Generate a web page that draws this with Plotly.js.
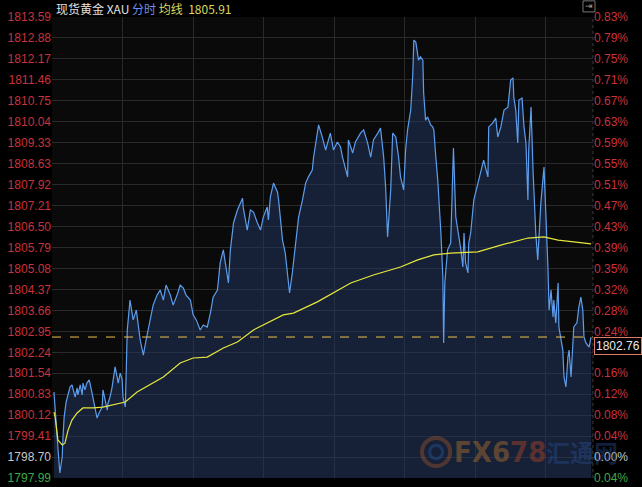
<!DOCTYPE html>
<html><head><meta charset="utf-8">
<script src="https://cdn.plot.ly/plotly-3.0.1.min.js"></script>
<style>html,body{margin:0;padding:0;background:#000;}#chart{width:642px;height:487px;}</style>
</head><body><div id="chart"></div>
<script>
// minutes since session open (06:00), 23-hour session
const minutes = [5,8,13,15,20,26,28,31,36,41,46,51,54,59,64,66,72,77,79,84,89,95,102,110,115,120,128,130,135,141,143,148,153,156,161,166,169,174,179,181,187,192,197,199,207,215,225,233,240,250,258,268,276,284,291,302,309,319,327,335,342,353,360,368,378,386,396,404,411,422,429,437,447,450,455,463,473,486,488,498,506,514,524,532,539,549,552,557,565,575,578,588,595,603,606,613,621,629,639,647,654,664,667,680,690,698,710,718,728,736,741,754,756,767,774,787,795,805,813,820,831,838,846,851,856,864,869,877,884,889,897,902,907,915,920,923,928,933,935,940,946,948,953,958,966,971,974,979,984,992,997,999,1002,1009,1017,1020,1024,1030,1038,1043,1048,1051,1055,1061,1063,1068,1076,1086,1094,1101,1112,1114,1124,1132,1137,1145,1153,1163,1170,1176,1178,1183,1188,1191,1199,1204,1209,1214,1216,1222,1227,1234,1239,1247,1255,1260,1265,1268,1273,1278,1280,1285,1291,1293,1298,1303,1306,1311,1316,1319,1324,1329,1331,1339,1344,1349,1354,1357,1362,1370,1375];
const prices = [1800.90,1800.29,1799.17,1799.04,1798.16,1798.70,1799.38,1800.05,1800.56,1800.80,1801.07,1801.14,1800.97,1800.73,1801.04,1800.80,1801.14,1800.80,1801.20,1800.97,1801.20,1801.31,1800.87,1800.39,1800.02,1800.19,1800.39,1800.97,1800.63,1800.29,1800.53,1800.73,1801.04,1801.31,1801.75,1801.41,1801.20,1801.54,1801.31,1800.73,1800.39,1803.00,1803.84,1804.01,1803.34,1803.67,1802.66,1802.15,1802.66,1803.34,1803.84,1804.18,1804.35,1804.01,1804.52,1804.18,1803.84,1804.18,1804.52,1804.42,1804.18,1804.01,1803.51,1803.34,1803.00,1803.17,1803.10,1803.57,1804.11,1804.35,1805.27,1805.71,1804.93,1804.59,1805.71,1806.62,1807.06,1807.46,1807.13,1806.38,1807.06,1806.99,1806.62,1806.38,1806.82,1807.16,1806.72,1807.50,1807.97,1807.67,1807.40,1806.04,1805.60,1804.59,1804.25,1804.93,1805.81,1806.82,1807.40,1807.97,1808.18,1808.41,1808.82,1809.94,1809.50,1809.09,1809.66,1809.09,1809.36,1809.19,1808.85,1808.18,1809.43,1808.99,1809.36,1809.66,1809.77,1809.33,1808.85,1809.43,1809.66,1809.83,1808.85,1807.84,1806.15,1807.74,1809.66,1809.53,1808.85,1808.18,1807.74,1809.09,1809.77,1810.44,1811.56,1812.81,1812.74,1812.37,1812.13,1812.24,1812.13,1811.02,1810.10,1810.21,1809.94,1809.87,1809.77,1808.85,1808.07,1806.28,1804.79,1802.56,1804.59,1805.71,1805.94,1807.30,1809.16,1806.82,1806.15,1805.71,1805.13,1806.28,1805.27,1804.93,1805.94,1806.28,1807.40,1807.97,1808.41,1808.75,1808.18,1809.87,1810.00,1810.17,1809.53,1809.87,1810.44,1810.54,1811.46,1811.53,1810.88,1810.44,1809.33,1810.78,1810.85,1809.87,1809.33,1807.40,1809.09,1810.54,1808.41,1806.28,1805.37,1807.30,1808.51,1807.06,1805.13,1803.67,1804.35,1803.44,1804.01,1803.24,1804.59,1803.10,1802.76,1802.32,1801.41,1801.07,1802.08,1802.32,1801.41,1802.56,1803.10,1803.24,1803.78,1804.11,1803.67,1802.76,1802.56,1802.42,1802.76];
const avgMinutes = [5,8,15,26,33,41,51,64,79,105,130,156,187,217,250,284,327,360,396,437,473,514,590,616,677,762,820,889,933,974,1017,1086,1145,1214,1255,1291,1331,1375];
const avgPrices = [1800.22,1800.05,1799.28,1799.11,1799.17,1799.61,1799.95,1800.19,1800.36,1800.36,1800.39,1800.46,1800.56,1800.90,1801.14,1801.41,1801.88,1802.05,1802.08,1802.39,1802.59,1803.00,1803.51,1803.57,1803.95,1804.59,1804.86,1805.13,1805.37,1805.54,1805.60,1805.64,1805.87,1806.11,1806.15,1806.04,1805.98,1805.91];
const priceLabels = ["1813.59","1812.88","1812.17","1811.46","1810.75","1810.04","1809.33","1808.63","1807.92","1807.21","1806.50","1805.79","1805.08","1804.37","1803.66","1802.95","1802.24","1801.54","1800.83","1800.12","1799.41","1798.70","1797.99"];
// the label at 1802.24 (0.20%) is hidden behind the last-price box in the reference
const pctLabels = ["0.83%","0.79%","0.75%","0.71%","0.67%","0.63%","0.59%","0.55%","0.51%","0.47%","0.43%","0.39%","0.35%","0.32%","0.28%","0.24%","","0.16%","0.12%","0.08%","0.04%","0.00%","0.04%"];
const sessionMinutes = 1380;
const gridStepMinutes = 180;
const lastPrice = 1802.76;
const avgLast = "1805.91";

const RED = '#c8323c', WHITE = '#c8c8c8', GREEN = '#3fa84a';
const tickVals = priceLabels.map(Number);
function colorFor(i){ return i === 22 ? GREEN : (i === 21 ? WHITE : RED); }
const leftText = priceLabels.map((t,i)=>'<span style="color:'+colorFor(i)+'">'+t+'</span>');
const rightText = pctLabels.map((t,i)=> t ? '<span style="color:'+colorFor(i)+'">'+t+'</span>' : '');
const yr = [tickVals[22], tickVals[0]];

const traces = [
  {x: minutes, y: prices, type:'scatter', mode:'lines', fill:'tozeroy',
   fillcolor:'rgba(32,52,92,0.55)', line:{color:'#5c9ded', width:1.2}, hoverinfo:'skip'},
  {x: avgMinutes, y: avgPrices, type:'scatter', mode:'lines',
   line:{color:'#e6e63c', width:1.2}, hoverinfo:'skip'},
  {x: [0], y: [lastPrice], yaxis:'y2', type:'scatter', mode:'markers', marker:{opacity:0}, hoverinfo:'skip'}
];

const layout = {
  width:642, height:487,
  paper_bgcolor:'#000', plot_bgcolor:'#0a0a0a',
  margin:{l:52, r:49, t:17, b:9},
  showlegend:false,
  font:{family:'Liberation Sans, Arial, sans-serif', size:12},
  xaxis:{range:[0, sessionMinutes], tick0:0, dtick:gridStepMinutes, showticklabels:false,
         showgrid:true, gridcolor:'#2a2a2a', gridwidth:1, zeroline:false, showline:false, ticks:''},
  yaxis:{range:yr, tickmode:'array', tickvals:tickVals, ticktext:leftText, side:'left',
         showgrid:true, gridcolor:'#2a2a2a', gridwidth:1, zeroline:false, showline:false,
         ticks:'', tickfont:{size:12, color:RED, family:'Liberation Sans, Arial, sans-serif'}},
  yaxis2:{range:yr, overlaying:'y', side:'right', tickmode:'array', tickvals:tickVals, ticktext:rightText,
          showgrid:false, zeroline:false, showline:false, ticks:'',
          tickfont:{size:12, color:RED, family:'Liberation Sans, Arial, sans-serif'}},
  shapes:[
    {type:'line', xref:'paper', x0:0, x1:1, yref:'y', y0:lastPrice, y1:lastPrice,
     line:{color:'#f0c24c', width:1, dash:'dash'}},
    {type:'line', xref:'paper', x0:1, x1:1, yref:'paper', y0:0, y1:1,
     line:{color:'#3a3a3a', width:1, dash:'dot'}},
    {type:'circle', xref:'paper', yref:'paper', x0:0.684, x1:0.736, y0:0.026, y1:0.087,
     line:{color:'rgba(190,95,40,0.35)', width:4}, fillcolor:'rgba(0,0,0,0)'},
    {type:'circle', xref:'paper', yref:'paper', x0:0.698, x1:0.722, y0:0.042, y1:0.071,
     line:{color:'rgba(40,80,150,0.45)', width:3}, fillcolor:'rgba(0,0,0,0)'},
    {type:'rect', xref:'paper', yref:'paper', x0:0.9815, x1:1.0037, y0:1.011, y1:1.035,
     line:{color:'#777', width:1}, fillcolor:'rgba(0,0,0,0)'}
  ],
  annotations:[
    {xref:'paper', yref:'paper', x:0.004, y:1.019, xanchor:'left', yanchor:'middle', showarrow:false,
     font:{family:'Noto Sans CJK SC, sans-serif', size:12, color:'#e0e0e0'},
     text:'现货黄金 XAU <span style="color:#6f8fe6">分时</span> <span style="color:#d8d860">均线</span>  <span style="color:#d8d860">'+avgLast+'</span>'},
    {xref:'paper', yref:'y', x:1.002, y:lastPrice, xanchor:'left', yanchor:'top', showarrow:false,
     text:lastPrice.toFixed(2), bgcolor:'#000', bordercolor:'#e07a6a', borderwidth:1, borderpad:1,
     font:{size:12, color:'#e8e8e8', family:'Liberation Sans, Arial, sans-serif'}},
    {xref:'paper', yref:'paper', x:0.828, y:0.057, xanchor:'center', yanchor:'middle', showarrow:false,
     text:'<b><span style="color:rgba(160,105,45,0.5)">FX6</span><span style="color:rgba(160,65,40,0.5)">78</span></b>',
     font:{family:'DejaVu Sans Condensed, sans-serif', size:29}},
    {xref:'paper', yref:'paper', x:0.98, y:0.057, xanchor:'center', yanchor:'middle', showarrow:false,
     text:'<b>汇通网</b>', font:{family:'Noto Sans CJK SC, sans-serif', size:24, color:'rgba(40,75,140,0.45)'}},
    {xref:'paper', yref:'paper', x:0.9926, y:1.023, xanchor:'center', yanchor:'middle', showarrow:false,
     text:'⇥', font:{size:9, color:'#999'}}
  ]
};
Plotly.newPlot('chart', traces, layout, {displayModeBar:false, staticPlot:true});
</script>
</body></html>
